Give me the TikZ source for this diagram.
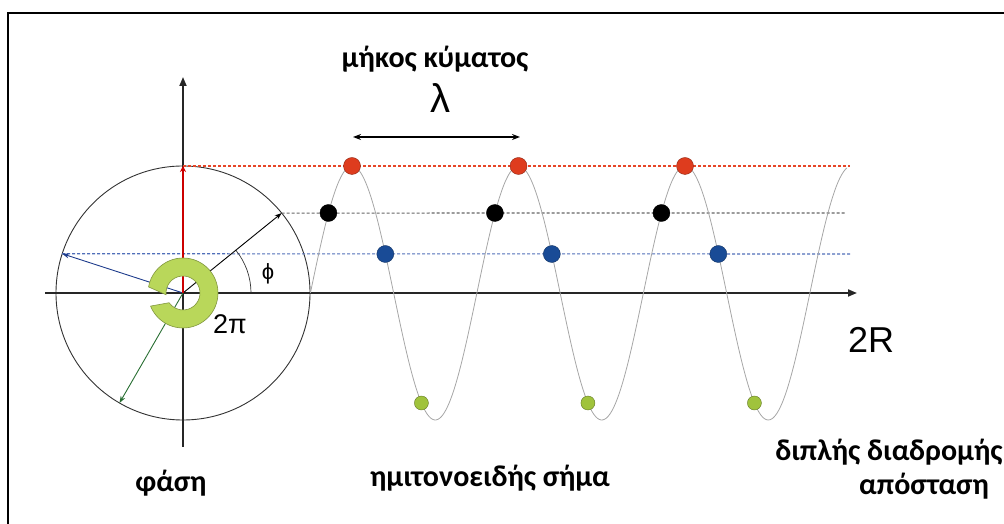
\documentclass[tikz,border=0pt]{standalone}
\usepackage{fontspec}
\newfontfamily\lblfont{Carlito}[BoldFont={Carlito Bold}]
\newfontfamily\symfont{Liberation Sans}
\definecolor{dotred}{RGB}{222, 60, 30}
\definecolor{dotblue}{RGB}{25, 75, 150}
\definecolor{dotgreen}{RGB}{160, 195, 60}
\definecolor{ringgreen}{RGB}{185, 215, 90}
\definecolor{vecgreen}{RGB}{40, 110, 50}
\definecolor{vecblue}{RGB}{30, 60, 140}
\definecolor{guidered}{RGB}{230, 70, 40}
\definecolor{guideblue}{RGB}{80, 110, 185}
\usetikzlibrary{arrows.meta, calc}

\begin{document}
\begin{tikzpicture}[x=1pt, y=1pt,
  dot/.style={circle, draw=#1!65!black, fill=#1, inner sep=0pt, minimum size=17pt},
  gdot/.style={circle, draw=dotgreen!60!black, fill=dotgreen, inner sep=0pt, minimum size=14pt},
  lbl/.style={font=\lblfont\bfseries\fontsize{30}{33}\selectfont, inner sep=0pt, anchor=base},
  sym/.style={font=\symfont\fontsize{#1}{#1}\selectfont, inner sep=0pt, anchor=base},
  axis/.style={-{Triangle[length=9pt, width=7pt]}, line width=1.8pt, black!85},
  vec/.style={-{Stealth[length=7pt, width=5pt]}, line width=0.9pt},
  guide/.style={dash pattern=on 3pt off 2pt, line width=1.1pt}
]
  \useasboundingbox (0,0) rectangle (1004,524);
  \draw[line width=2.5pt] (8,0) -- (8,511) -- (1004,511);

  \coordinate (C) at (183,231);
  \coordinate (xs) at (45,231);
  \coordinate (xe) at (857,231);
  \coordinate (ys) at (183,77);
  \coordinate (ye) at (183,447);
  \coordinate (tipR) at ($(C)+(90:127)$);
  \coordinate (tipK) at ($(C)+(39:127)$);
  \coordinate (tipB) at ($(C)+(162:127)$);
  \coordinate (tipG) at ($(C)+(240:127)$);
  \coordinate (endR) at (850,358);
  \coordinate (endK) at (845,311);
  \coordinate (endB) at (850,270);
  \coordinate (lamA) at (353,387);
  \coordinate (lamB) at (520,387);

  \draw[line width=0.9pt, black!80] (C) circle[radius=127];
  \draw[axis] (xs) -- (xe);
  \draw[axis] (ys) -- (ye);

  \draw[guide, draw=guidered] (tipR) -- (endR);
  \draw[guide, draw=black!60] (tipK) -- (endK);
  \draw[guide, draw=guideblue] (tipB) -- (endB);

  \draw[black!35, line width=0.8pt] plot[domain=0:1160, samples=300, smooth] ({310.4+0.4625*\x}, {231+127*sin(\x)});

  \draw[line width=0.7pt, black!80] ($(C)+(68,0)$) arc[start angle=0, end angle=39, radius=68];
  \draw[vec, black] (C) -- (tipK);
  \draw[vec, vecblue] (C) -- (tipB);
  \draw[vec, vecgreen] (C) -- (tipG);
  \draw[-{Stealth[length=6pt, width=6pt]}, line width=2.6pt, red!80!black] (C) -- (tipR);

  \fill[ringgreen, draw=ringgreen!70!black, line width=0.6pt]
    ($(C)+(202:35)$) arc[start angle=202, end angle=530, radius=35]
    -- ($(C)+(186:17)$) arc[start angle=546, end angle=215, radius=17] -- cycle;

  \foreach \k in {0,1,2} {
    \node[dot=dotred] (r\k) at ({352+166.5*\k},358) {};
    \node[dot=black] (k\k) at ({328.4+166.5*\k},311) {};
    \node[dot=dotblue] (b\k) at ({385.3+166.5*\k},270) {};
    \node[gdot] (g\k) at ({421.4+166.5*\k},121) {};
  }

  \draw[{Stealth[length=8pt, width=6pt]}-{Stealth[length=8pt, width=6pt]}, line width=1.3pt] (lamA) -- (lamB);

  \node[lbl] (title) at (435,456) {μήκος κύματος};
  \node[sym=40] (lam) at (440,411) {λ};
  \node[sym=22] (phi) at (268,244) {ϕ};
  \node[sym=27] (twopi) at (230,190) {2π};
  \node[sym=36] (twoR) at (871,171) {2R};
  \node[lbl] (phase) at (171,32) {φάση};
  \node[lbl] (signal) at (490,37) {ημιτονοειδής σήμα};
  \node[lbl] (dist1) at (889,63) {διπλής διαδρομής};
  \node[lbl] (dist2) at (924,29) {απόσταση};
\end{tikzpicture}
\end{document}
